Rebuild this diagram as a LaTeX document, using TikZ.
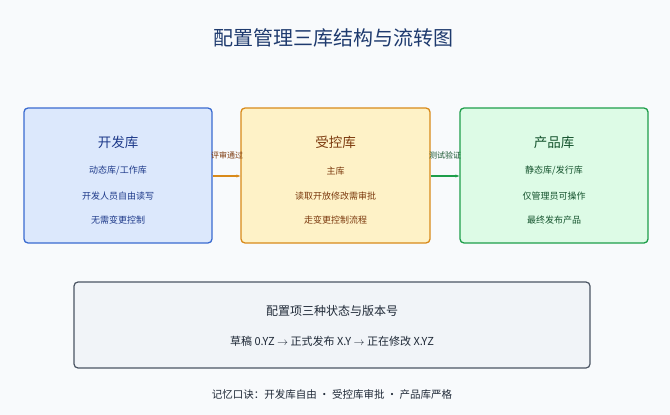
\documentclass[tikz,border=0pt]{standalone}
\usepackage{fontspec}
\setmainfont{Noto Sans CJK SC}
\usetikzlibrary{arrows.meta}
\definecolor{bg}{HTML}{F8FAFC}
\definecolor{bfill}{HTML}{DCE8FC}\definecolor{bline}{HTML}{3A6BD0}\definecolor{btext}{HTML}{1E3A8A}
\definecolor{yfill}{HTML}{FEF2C7}\definecolor{yline}{HTML}{D98A1A}\definecolor{ytext}{HTML}{7C3A0E}
\definecolor{gfill}{HTML}{DDFBE6}\definecolor{gline}{HTML}{1E9E4A}\definecolor{gtext}{HTML}{14532D}
\definecolor{title}{HTML}{1E3A6E}
\definecolor{sfill}{HTML}{F1F4F8}\definecolor{sline}{HTML}{4B5563}\definecolor{stext}{HTML}{1F2937}
\tikzset{box/.style={draw,line width=1.3pt,rounded corners=4pt},
 t/.style={font=\fontsize{13.5}{16}\selectfont},
 s/.style={font=\fontsize{9}{11}\selectfont},
 lab/.style={font=\fontsize{8}{10}\selectfont}}
\begin{document}
\begin{tikzpicture}[x=1pt,y=-1pt]
\fill[bg] (0,0) rectangle (670,415);
\useasboundingbox (0,0) rectangle (670,415);
\node[font=\fontsize{20}{24}\selectfont,text=title] (T) at (333,38) {配置管理三库结构与流转图};
\node[box,draw=bline,fill=bfill,minimum width=188pt,minimum height=135pt] (dev) at (118,175.5) {};
\node[box,draw=yline,fill=yfill,minimum width=189pt,minimum height=135pt] (ctl) at (335.5,175.5) {};
\node[box,draw=gline,fill=gfill,minimum width=188pt,minimum height=135pt] (prd) at (554,175.5) {};
\node[t,text=btext] (d1) at (118,142) {开发库};
\node[s,text=btext] (d2) at (118,171) {动态库/工作库};
\node[s,text=btext] (d3) at (118,196) {开发人员自由读写};
\node[s,text=btext] (d4) at (118,220) {无需变更控制};
\node[t,text=ytext] (c1) at (335.5,142) {受控库};
\node[s,text=ytext] (c2) at (335.5,171) {主库};
\node[s,text=ytext] (c3) at (335.5,196) {读取开放修改需审批};
\node[s,text=ytext] (c4) at (335.5,220) {走变更控制流程};
\node[t,text=gtext] (p1) at (554,142) {产品库};
\node[s,text=gtext] (p2) at (554,171) {静态库/发行库};
\node[s,text=gtext] (p3) at (554,196) {仅管理员可操作};
\node[s,text=gtext] (p4) at (554,220) {最终发布产品};
\draw[yline,line width=1.5pt,-{Stealth[length=4pt]}] (dev.east|-0,176) -- (ctl.west|-0,176);
\node[lab,text=ytext] (l1) at (227,155) {评审通过};
\draw[gline,line width=1.5pt,-{Stealth[length=4pt]}] (ctl.east|-0,176) -- (prd.west|-0,176);
\node[lab,text=gtext] (l2) at (445,155) {测试验证};
\node[box,draw=sline,fill=sfill,line width=1.2pt,minimum width=516pt,minimum height=86pt] (st) at (332,325) {};
\node[font=\fontsize{12}{14}\selectfont,text=stext] (s1) at (332,311) {配置项三种状态与版本号};
\node[font=\fontsize{11}{13}\selectfont,text=stext] (s2) at (332,341) {草稿 0.YZ $\rightarrow$ 正式发布 X.Y $\rightarrow$ 正在修改 X.YZ};
\node[font=\fontsize{10.5}{12}\selectfont,text=stext] (f) at (332,395) {记忆口诀：开发库自由 · 受控库审批 · 产品库严格};
\end{tikzpicture}
\end{document}
